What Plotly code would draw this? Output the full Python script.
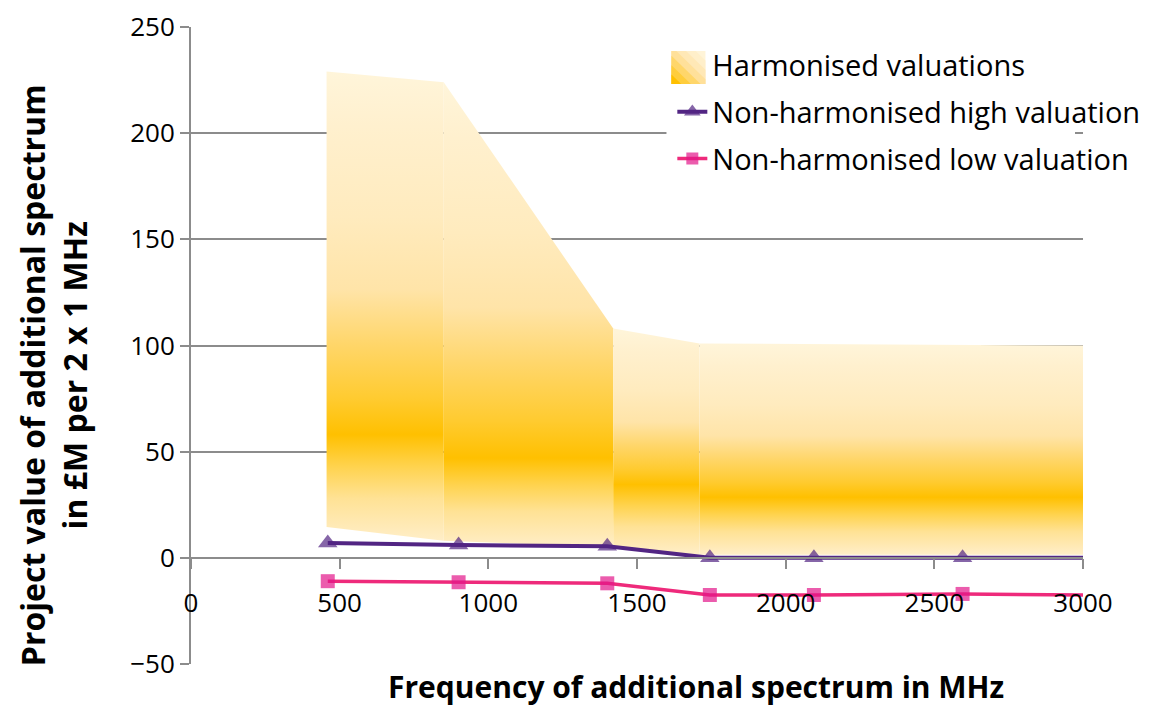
import plotly.graph_objects as go

# harmonised valuation band (upper / most likely / lower edge)
band_x = [456, 850, 1420, 1710, 3000]
band_hi = [229, 224, 108, 101, 100]
band_mid = [62, 54, 40, 29, 28]
band_lo = [14.5, 8, 5, 1.5, 1.5]

# non-harmonised valuations
freq = [460, 900, 1400, 1745, 2095, 2595, 3000]
high_val = [7, 6, 5.5, 0, 0, 0, 0]
low_val = [-11, -11.5, -12, -17.5, -17.5, -17, -17.5]
marker_shown = [1, 1, 1, 1, 1, 1, 0]

GRID = "#8c8c8c"
FONT = "Open Sans"

# colour stops as a fraction of the distance from the most likely value
UP = [(0.0, "#ffc000"), (0.1, "#ffcb30"), (0.25, "#ffd66a"), (0.4, "#ffe4a8"),
      (0.6, "#ffebbe"), (0.85, "#fff0ce"), (1.0, "#fff5da")]
DOWN = [(0.3, "#ffd34e"), (0.6, "#ffe295"), (1.0, "#ffeec8")]
SWATCH = ["#ffc000", "#ffcd3c", "#ffd66a", "#ffe09a", "#ffe8b6", "#ffefca", "#fff4d8"]

# plot area in page pixels (page has an 8px body margin)
PL, PR, PT, PB = 191, 1084, 27, 664


def band_scale(lo, mid, hi):
    span = hi - lo
    stops = []
    for f, col in reversed(DOWN):
        stops.append(((mid - f * (mid - lo) - lo) / span, col))
    for f, col in UP:
        stops.append(((mid + f * (hi - mid) - lo) / span, col))
    out, last = [], -1.0
    for pos, col in stops:
        pos = min(max(pos, 0.0), 1.0)
        if pos <= last:
            continue
        out.append([pos, col])
        last = pos
    out[0][0] = 0.0
    out[-1][0] = 1.0
    return out


def px_x(p):
    return (p - PL) / (PR - PL)


def px_y(p):
    return 1 - (p - PT) / (PB - PT)


fig = go.Figure()

for i in range(len(band_x) - 1):
    lo = min(band_lo[i], band_lo[i + 1])
    hi = max(band_hi[i], band_hi[i + 1])
    mid = (band_mid[i] + band_mid[i + 1]) / 2
    fig.add_trace(go.Scatter(
        x=[band_x[i], band_x[i + 1], band_x[i + 1], band_x[i], band_x[i]],
        y=[band_lo[i], band_lo[i + 1], band_hi[i + 1], band_hi[i], band_lo[i]],
        mode="lines", fill="toself", line=dict(width=0),
        fillgradient=dict(type="vertical", colorscale=band_scale(lo, mid, hi), start=lo, stop=hi),
        showlegend=False, hoverinfo="skip",
    ))

# legend entry for the band; its swatch is drawn with shapes below
fig.add_trace(go.Scatter(
    x=[None], y=[None], mode="lines", line=dict(width=0, color="rgba(0,0,0,0)"),
    name="Harmonised valuations", legendgroup="band",
))
fig.add_trace(go.Scatter(
    x=freq, y=high_val, mode="lines+markers", name="Non-harmonised high valuation",
    legendgroup="high",
    line=dict(color="#522583", width=4),
    marker=dict(symbol="triangle-up", size=[17 * m for m in marker_shown], color="#522583",
                line=dict(width=0)),
))
fig.add_trace(go.Scatter(
    x=freq, y=low_val, mode="lines+markers", name="Non-harmonised low valuation",
    legendgroup="low",
    line=dict(color="#ee2a7b", width=3.5),
    marker=dict(symbol="square", size=[14 * m for m in marker_shown], color="#e3178a",
                line=dict(width=0)),
))

# white box behind the legend (hides gridlines there)
shapes = [dict(type="rect", xref="paper", yref="paper", x0=px_x(667), x1=px_x(1076),
               y0=px_y(180), y1=px_y(40), fillcolor="white", line=dict(width=0), layer="above")]

# diagonal-gradient swatch: nested corner pieces, palest first
sx0, sx1, sy0, sy1 = 672, 706, 51, 84
n = len(SWATCH)
for k in range(n - 1, -1, -1):
    d = 2 * (k + 1) / n
    if d <= 1:
        pts = [(0, 0), (d, 0), (0, d)]
    else:
        pts = [(0, 0), (1, 0), (1, d - 1), (d - 1, 1), (0, 1)]
    path = "M " + " L ".join(
        f"{px_x(sx0 + u * (sx1 - sx0)):.5f},{px_y(sy1 - v * (sy1 - sy0)):.5f}" for u, v in pts) + " Z"
    shapes.append(dict(type="path", path=path, xref="paper", yref="paper",
                       fillcolor=SWATCH[k], line=dict(width=0), layer="above"))

fig.update_layout(
    width=1149, height=701,
    margin=dict(l=PL - 8, r=1157 - PR, t=PT - 8, b=709 - PB),
    paper_bgcolor="white", plot_bgcolor="white",
    font=dict(family=FONT, size=26, color="black"),
    legend=dict(
        x=0.539, y=0.98, xanchor="left", yanchor="top",
        bgcolor="rgba(0,0,0,0)", font=dict(size=29), tracegroupgap=6,
        traceorder="grouped",
    ),
    shapes=shapes,
    annotations=[
        dict(text="<b>Project value of additional spectrum<br>in £M per 2 x 1 MHz</b>",
             xref="paper", yref="paper", x=px_x(53), y=px_y(375), textangle=-90,
             showarrow=False, font=dict(size=32), xanchor="center", yanchor="middle"),
        dict(text="<b>Frequency of additional spectrum in MHz</b>",
             xref="paper", yref="paper", x=px_x(697), y=px_y(686),
             showarrow=False, font=dict(size=30), xanchor="center", yanchor="middle"),
    ],
)

fig.update_xaxes(
    range=[0, 3000], dtick=500, anchor="free", position=50 / 300, automargin=False,
    showgrid=False, zeroline=False,
    showline=True, linecolor=GRID, linewidth=2,
    ticks="outside", ticklen=10, tickwidth=2, tickcolor=GRID,
    ticklabelstandoff=12,
)
fig.update_yaxes(
    range=[-50, 250], dtick=50, automargin=False,
    showgrid=True, gridcolor=GRID, gridwidth=2, zeroline=False,
    showline=True, linecolor=GRID, linewidth=2,
    ticks="outside", ticklen=9, tickwidth=2, tickcolor=GRID,
)

fig.write_html("out.html")
